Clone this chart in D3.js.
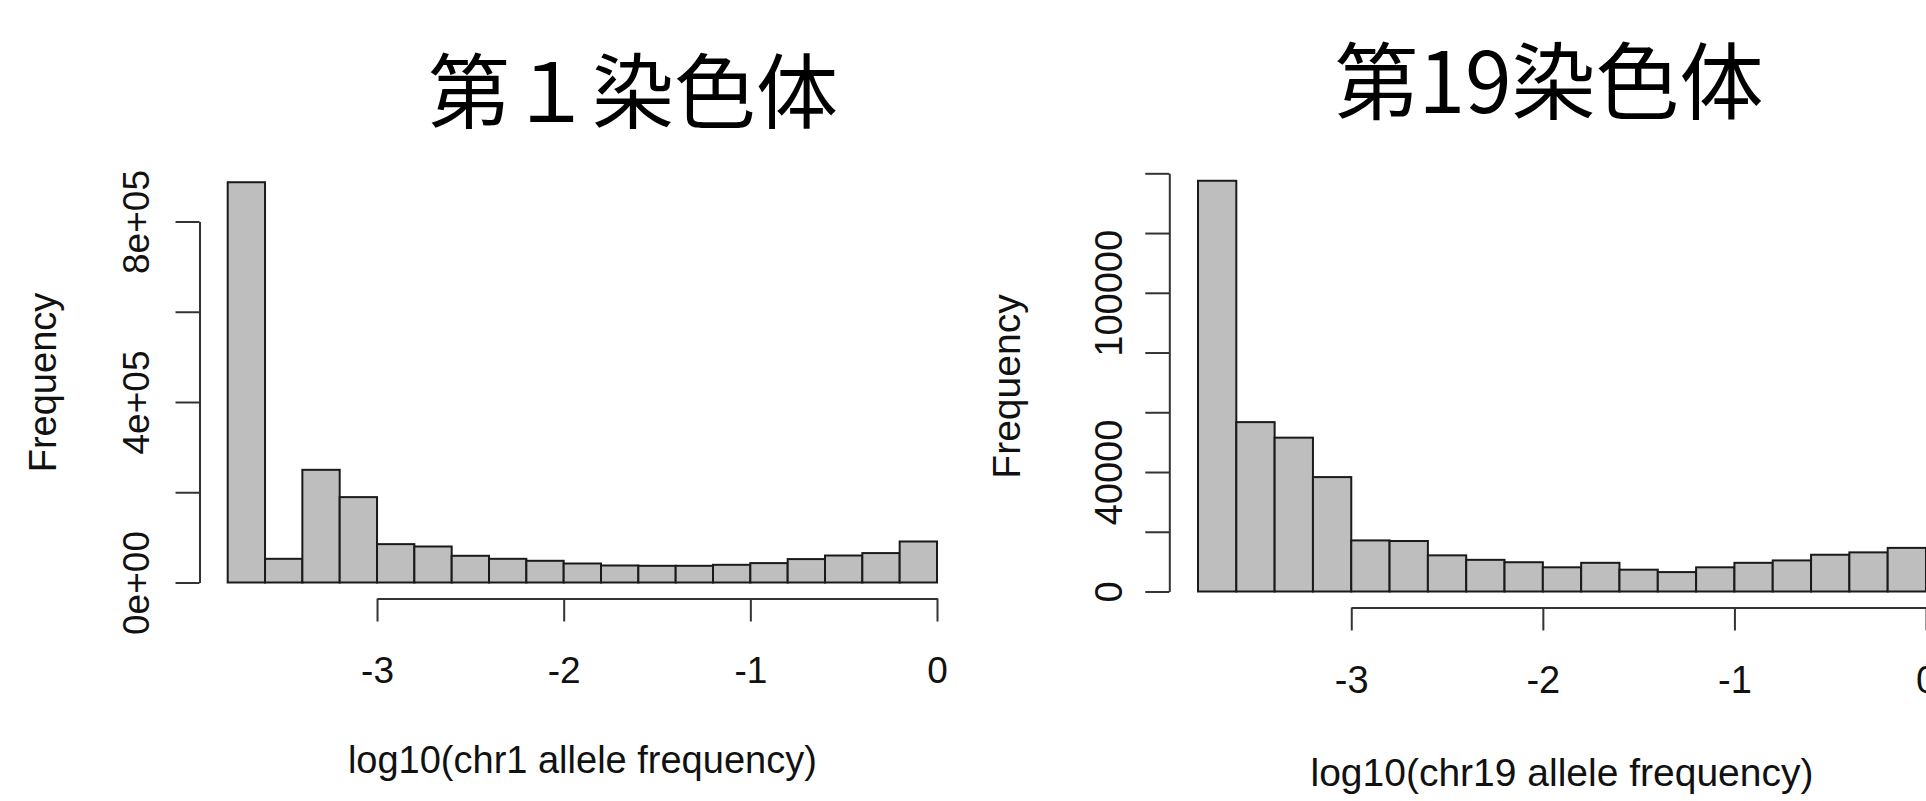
<!DOCTYPE html>
<html>
<head>
<meta charset="utf-8">
<script src="https://cdn.jsdelivr.net/npm/d3@7"></script>
<style>
  html, body { margin: 0; padding: 0; background: #fff; overflow: hidden; }
  svg { display: block; }
  text { font-family: "Liberation Sans", Arial, Helvetica, sans-serif; fill: #111; }
  .title { font-family: "Noto Sans CJK JP", "Noto Sans CJK SC", sans-serif; }
</style>
</head>
<body>
<svg id="chart" width="1926" height="801"></svg>
<script>
// ---- data ----
const binEdges = [-3.8, -3.6, -3.4, -3.2, -3.0, -2.8, -2.6, -2.4, -2.2, -2.0,
                  -1.8, -1.6, -1.4, -1.2, -1.0, -0.8, -0.6, -0.4, -0.2, 0.0];
const chr1Counts = [887000, 52500, 249700, 189200, 85000, 79800, 59200, 52500, 48100, 42100,
                    37700, 37000, 37000, 39200, 43000, 51900, 59800, 65200, 90900];
const chr19Counts = [137500, 56700, 51500, 38300, 17100, 16900, 12100, 10600, 9800, 8100,
                     9600, 7300, 6500, 8100, 9600, 10400, 12300, 13100, 14600];
const xTicks = [-3, -2, -1, 0];
const xTickLabels = ["-3", "-2", "-1", "0"];
const chr1YTicks = [0, 200000, 400000, 600000, 800000];
const chr1YLabels = {0: "0e+00", 400000: "4e+05", 800000: "8e+05"};
const chr19YTicks = [0, 20000, 40000, 60000, 80000, 100000, 120000, 140000];
const chr19YLabels = {0: "0", 40000: "40000", 100000: "100000"};
const titles = ["第１染色体", "第19染色体"];
const xTitles = ["log10(chr1 allele frequency)", "log10(chr19 allele frequency)"];
const yTitle = "Frequency";

const svg = d3.select("#chart");

const panels = [
  {
    counts: chr1Counts, yTicks: chr1YTicks, yLabels: chr1YLabels,
    title: titles[0], xTitle: xTitles[0],
    xRange: [227.7, 937], yDomainMax: 800000, yRange: [582.5, 221.5],
    yAxisX: 199.5, xAxisY: 598.5, tickLen: 24,
    yLabelOff: 51, xLabelOff: 84, xTitleY: 773, yTitleX: 56, yTitleY: 382.5,
    titleX: 633, titleY: 121.5, titleSize: 82, fontSize: 37, titleFont: 38
  },
  {
    counts: chr19Counts, yTicks: chr19YTicks, yLabels: chr19YLabels,
    title: titles[1], xTitle: xTitles[1],
    xRange: [1198, 1926], yDomainMax: 140000, yRange: [591.5, 173.3],
    yAxisX: 1169.3, xAxisY: 607.5, tickLen: 24,
    yLabelOff: 47, xLabelOff: 85, xTitleY: 786, yTitleX: 1020, yTitleY: 386.5,
    titleX: 1549, titleY: 113, titleSize: 84, fontSize: 38, titleFont: 39
  }
];

panels.forEach(p => {
  const x = d3.scaleLinear().domain([binEdges[0], binEdges[binEdges.length - 1]]).range(p.xRange);
  const y = d3.scaleLinear().domain([0, p.yDomainMax]).range(p.yRange);
  const g = svg.append("g");

  // bars
  g.selectAll("rect.bar")
    .data(p.counts)
    .join("rect")
    .attr("class", "bar")
    .attr("x", (d, i) => x(binEdges[i]))
    .attr("width", (d, i) => x(binEdges[i + 1]) - x(binEdges[i]))
    .attr("y", d => y(d))
    .attr("height", d => y(0) - y(d))
    .attr("fill", "#bebebe")
    .attr("stroke", "#1a1a1a")
    .attr("stroke-width", 2);

  // y axis
  const yAxisScale = y.copy().domain([p.yTicks[0], p.yTicks[p.yTicks.length - 1]])
                           .range([y(p.yTicks[0]), y(p.yTicks[p.yTicks.length - 1])]);
  const yAxis = d3.axisLeft(yAxisScale)
    .tickValues(p.yTicks)
    .tickSize(p.tickLen)
    .tickSizeOuter(0)
    .tickFormat(d => p.yLabels[d] || "");
  const ya = g.append("g").attr("transform", `translate(${p.yAxisX},0)`).call(yAxis);
  ya.select(".domain").attr("stroke", "#333").attr("stroke-width", 2);
  ya.selectAll(".tick line").attr("stroke", "#333").attr("stroke-width", 2);
  ya.selectAll(".tick text")
    .attr("x", null).attr("dy", null)
    .attr("transform", `translate(${-p.yLabelOff},0) rotate(-90)`)
    .attr("text-anchor", "middle")
    .style("font-family", '"Liberation Sans", Arial, sans-serif')
    .style("font-size", p.fontSize + "px")
    .attr("fill", "#111");

  // x axis
  const xAxisScale = x.copy().domain([xTicks[0], xTicks[xTicks.length - 1]])
                           .range([x(xTicks[0]), x(xTicks[xTicks.length - 1])]);
  const xAxis = d3.axisBottom(xAxisScale)
    .tickValues(xTicks)
    .tickSize(p.tickLen - 1)
    .tickSizeOuter(0)
    .tickFormat((d, i) => xTickLabels[i]);
  const xa = g.append("g").attr("transform", `translate(0,${p.xAxisY})`).call(xAxis);
  xa.select(".domain").attr("stroke", "#333").attr("stroke-width", 2);
  xa.selectAll(".tick line").attr("stroke", "#333").attr("stroke-width", 2);
  xa.selectAll(".tick text")
    .attr("y", p.xLabelOff).attr("dy", null)
    .attr("text-anchor", "middle")
    .style("font-family", '"Liberation Sans", Arial, sans-serif')
    .style("font-size", p.fontSize + "px")
    .attr("fill", "#111");

  // axis titles
  g.append("text")
    .attr("x", x(-1.9)).attr("y", p.xTitleY)
    .attr("text-anchor", "middle")
    .style("font-size", p.titleFont + "px")
    .text(p.xTitle);
  g.append("text")
    .attr("transform", `translate(${p.yTitleX},${p.yTitleY}) rotate(-90)`)
    .attr("text-anchor", "middle")
    .style("font-size", p.titleFont + "px")
    .text(yTitle);

  // main title
  g.append("text")
    .attr("class", "title")
    .attr("x", p.titleX).attr("y", p.titleY)
    .attr("text-anchor", "middle")
    .style("font-size", p.titleSize + "px")
    .style("fill", "#000")
    .text(p.title);
});
</script>
</body>
</html>
